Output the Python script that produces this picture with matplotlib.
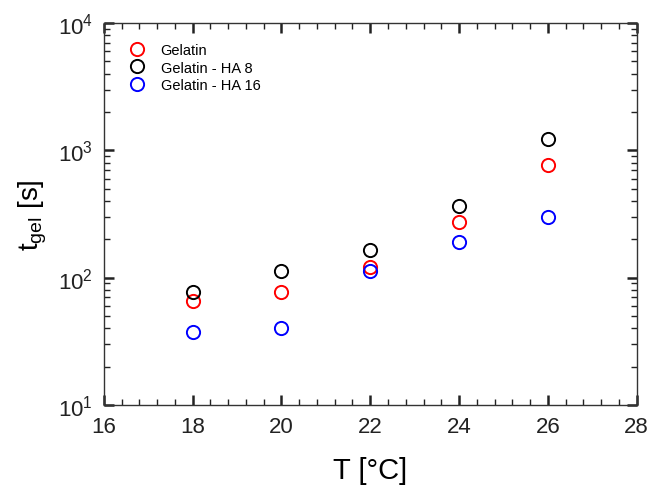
import matplotlib
matplotlib.use("Agg")
import matplotlib.pyplot as plt
from matplotlib.ticker import LogLocator, MultipleLocator, NullFormatter

plt.rcParams['font.family'] = ['Liberation Sans', 'DejaVu Sans']
plt.rcParams['mathtext.fontset'] = 'custom'
plt.rcParams['mathtext.rm'] = 'Liberation Sans'
plt.rcParams['mathtext.it'] = 'Liberation Sans:italic'
plt.rcParams['mathtext.bf'] = 'Liberation Sans:bold'

temps = [18, 20, 22, 24, 26]
gelatin = [65.3, 77.2, 121, 274, 768]
gelatin_ha8 = [76.8, 113.5, 166, 368, 1230]
gelatin_ha16 = [37.7, 40.3, 113.5, 192, 300]
series_labels = ["Gelatin", "Gelatin - HA 8", "Gelatin - HA 16"]
series_colors = ["#ff0000", "#000000", "#0000ff"]

fig = plt.figure(figsize=(6.53, 4.89), dpi=100)
ax = fig.add_axes([0.159, 0.170, 0.816, 0.781])

for vals, lab, col in zip([gelatin, gelatin_ha8, gelatin_ha16], series_labels, series_colors):
    ax.plot(temps, vals, linestyle='none', marker='o', markersize=9.5,
            markerfacecolor='none', markeredgecolor=col, markeredgewidth=1.4, label=lab)

ax.set_yscale('log')
ax.set_xlim(16, 28)
ax.set_ylim(10, 1e4)
ax.xaxis.set_major_locator(MultipleLocator(2))
ax.xaxis.set_minor_locator(MultipleLocator(0.4))
ax.yaxis.set_major_locator(LogLocator(base=10, numticks=10))
ax.yaxis.set_minor_locator(LogLocator(base=10, subs=range(2, 10), numticks=20))
ax.yaxis.set_minor_formatter(NullFormatter())

ax.tick_params(which='both', direction='in', top=True, right=True, labelsize=16, colors='#222222')
ax.tick_params(which='major', length=7, width=1.8, pad=8)
ax.tick_params(which='minor', length=4, width=1.0)
for s in ax.spines.values():
    s.set_linewidth(1.0)
    s.set_color('#333333')

ax.set_xlabel("T [°C]", fontsize=21, labelpad=14)
ax.set_ylabel(r"t$_{\mathrm{gel}}$ [s]", fontsize=20, labelpad=6)

leg = ax.legend(loc='upper left', frameon=False, fontsize=10.5, handletextpad=0.8,
                handlelength=1.6, borderaxespad=0.0, labelspacing=0.22,
                bbox_to_anchor=(0.03, 0.962))

fig.savefig("out.png", dpi=100)
